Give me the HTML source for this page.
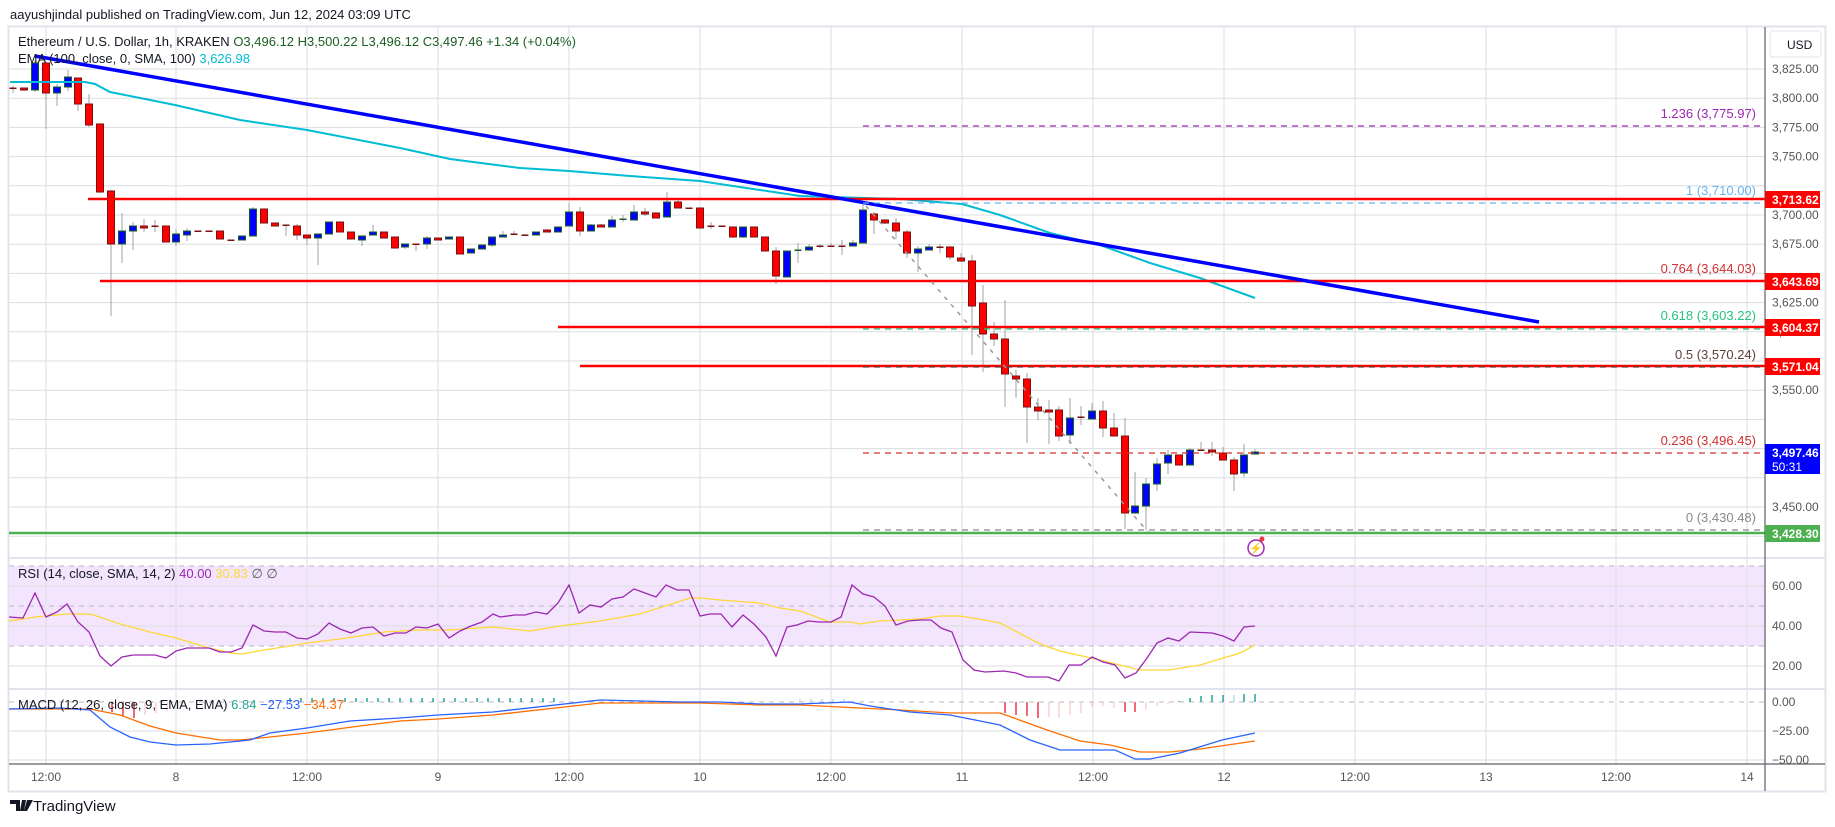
<!DOCTYPE html>
<html><head><meta charset="utf-8">
<style>
html,body{margin:0;padding:0;background:#fff;width:1835px;height:827px;overflow:hidden;font-family:"Liberation Sans",Arial,sans-serif}
svg text{font-family:"Liberation Sans",Arial,sans-serif}
</style></head>
<body>
<svg id="s" width="1835" height="827" xmlns="http://www.w3.org/2000/svg">
<rect x="0" y="0" width="1835" height="827" fill="#fff"/>
<text x="10" y="19" font-size="13" fill="#131722">aayushjindal published on TradingView.com, Jun 12, 2024 03:09 UTC</text>
<rect x="8.5" y="26.5" width="1817" height="765" fill="none" stroke="#e0e3eb" stroke-width="2"/>
<rect x="9" y="566" width="1756" height="80" fill="#f3e5fd"/>
<g id="grid" stroke="#dcdde0" stroke-width="1"></g>
<g stroke="#b7b7c0" stroke-dasharray="5,5" stroke-width="1">
<line x1="9" y1="566" x2="1765" y2="566"/><line x1="9" y1="606" x2="1765" y2="606"/><line x1="9" y1="646" x2="1765" y2="646"/>
<line x1="9" y1="702" x2="1765" y2="702"/>
</g>
<line x1="9" y1="558" x2="1825" y2="558" stroke="#e0e3eb" stroke-width="2"/>
<line x1="9" y1="689" x2="1825" y2="689" stroke="#e0e3eb" stroke-width="2"/>
<g id="cand"></g>
<!-- horizontal lines -->
<g stroke-width="2" fill="none">
<polyline stroke="#00bcd4" stroke-width="2" points="10,82 85,82 95,84 110,92 175,105 240,120 307,130 400,148 450,159 520,168 569,171 630,176 700,181 800,196 900,199 962,204 1000,215 1050,233 1100,245 1150,263 1200,278 1255,298"/>
<line x1="88" y1="199" x2="1765" y2="199" stroke="#ff0000" stroke-width="2.5"/>
<line x1="100" y1="281" x2="1765" y2="281" stroke="#ff0000" stroke-width="2.5"/>
<line x1="558" y1="327" x2="1765" y2="327" stroke="#ff0000" stroke-width="2.5"/>
<line x1="580" y1="366" x2="1765" y2="366" stroke="#ff0000" stroke-width="2.5"/>
<line x1="9" y1="533" x2="1765" y2="533" stroke="#4caf50" stroke-width="2.5"/>
<line x1="35" y1="56" x2="1539" y2="322" stroke="#0000ff" stroke-width="3.5"/>
</g>
<g stroke-width="1.2" stroke-dasharray="6,5" fill="none">
<line x1="863" y1="126" x2="1765" y2="126" stroke="#9c27b0"/>
<line x1="863" y1="203" x2="1765" y2="203" stroke="#64b5f6"/>
<line x1="863" y1="329" x2="1765" y2="329" stroke="#26c281"/>
<line x1="863" y1="367" x2="1765" y2="367" stroke="#5d4037"/>
<line x1="863" y1="453" x2="1765" y2="453" stroke="#d32f2f"/>
<line x1="863" y1="530" x2="1765" y2="530" stroke="#888"/>
<line x1="866" y1="206" x2="1148" y2="532" stroke="#999" stroke-dasharray="4,6" stroke-width="1.5"/>
</g>
<g font-size="13" text-anchor="end">
<text x="1756" y="118" fill="#9c27b0">1.236 (3,775.97)</text>
<text x="1756" y="195" fill="#64b5f6">1 (3,710.00)</text>
<text x="1756" y="273" fill="#d32f2f">0.764 (3,644.03)</text>
<text x="1756" y="320" fill="#26c281">0.618 (3,603.22)</text>
<text x="1756" y="359" fill="#5d4037">0.5 (3,570.24)</text>
<text x="1756" y="445" fill="#d32f2f">0.236 (3,496.45)</text>
<text x="1756" y="522" fill="#888">0 (3,430.48)</text>
</g>
<circle cx="1256" cy="548" r="8" fill="none" stroke="#9c27b0" stroke-width="1.5"/>
<text x="1256" y="552" font-size="11" text-anchor="middle" fill="#9c27b0">⚡</text>
<circle cx="1262" cy="539" r="2.5" fill="#f23645"/>
<!-- RSI -->
<polyline fill="none" stroke="#fdd835" stroke-width="1.3" points="9,621 23,619 35,617 46,616 67,614 89,614 100,617 120,624 150,632 176,638 209,648 231,653 242,654 264,650 290,646 307,643 340,639 384,632 416,630 449,630 493,627 530,631 560,626 600,621 640,614 690,598 700,598 720,600 760,603 780,608 800,611 830,622 851,622 860,624 880,621 920,619 940,616 960,616 985,620 1000,623 1040,644 1060,651 1100,660 1140,670 1169,670 1200,665 1240,653 1255,645"/>
<polyline fill="none" stroke="#9c27b0" stroke-width="1.3" points="9,617 23,618 35,593 46,617 57,612 67,604 78,622 89,632 100,656 111,666 122,657 133,655 155,655 166,658 176,651 187,648 209,648 220,652 231,652 242,648 253,625 264,631 275,632 286,632 297,638 307,639 318,634 329,623 340,629 351,633 362,628 373,627 384,636 395,633 406,633 416,627 427,628 438,624 449,638 460,631 471,626 482,622 493,614 500,617 515,615 525,615 536,612 547,614 558,603 569,585 579,613 590,605 601,607 612,599 623,597 634,589 645,593 656,597 666,585 677,590 689,590 700,616 710,614 721,614 732,627 743,615 754,624 766,637 776,656 787,627 797,625 808,621 819,622 831,622 841,617 852,585 863,594 874,597 885,606 896,625 908,621 920,620 931,620 941,628 952,632 963,660 974,670 985,672 1004,671 1016,673 1027,677 1048,677 1059,681 1069,665 1081,665 1092,657 1103,662 1115,665 1125,678 1136,673 1147,658 1157,643 1168,638 1179,641 1190,632 1212,633 1223,636 1234,641 1244,627 1255,626"/>
<text x="18" y="578" font-size="13" fill="#131722">RSI (14, close, SMA, 14, 2) <tspan fill="#9c27b0">40.00</tspan> <tspan fill="#fdd835">30.83</tspan> <tspan fill="#555">∅ ∅</tspan></text>
<!-- MACD -->
<g id="hist"></g>
<polyline fill="none" stroke="#ff6d00" stroke-width="1.3" points="9,709 90,709 120,715 150,726 176,733 220,740 240,740 270,737 307,733 360,726 400,721 438,719 493,715 600,703 700,703 760,705 800,705 900,710 950,713 1000,713 1050,731 1080,741 1110,745 1140,752 1170,752 1200,749 1255,741"/>
<polyline fill="none" stroke="#2962ff" stroke-width="1.3" points="9,709 60,708 90,710 110,727 130,737 150,742 176,745 210,744 250,740 270,733 307,728 350,721 400,718 438,715 493,712 600,700 680,702 720,702 760,704 800,704 850,702 870,706 910,712 950,715 1000,725 1030,740 1060,750 1100,750 1115,750 1135,759 1150,759 1180,753 1222,740 1255,733"/>
<text x="18" y="709" font-size="13" fill="#131722">MACD (12, 26, close, 9, EMA, EMA) <tspan fill="#26a69a">6.84</tspan> <tspan fill="#2962ff">−27.53</tspan> <tspan fill="#ff6d00">−34.37</tspan></text>
<!-- legend -->
<text x="18" y="46" font-size="13" fill="#131722">Ethereum / U.S. Dollar, 1h, KRAKEN <tspan fill="#1b5e20">O3,496.12 H3,500.22 L3,496.12 C3,497.46 +1.34 (+0.04%)</tspan></text>
<text x="18" y="63" font-size="13" fill="#131722">EMA (100, close, 0, SMA, 100) <tspan fill="#00bcd4">3,626.98</tspan></text>
<!-- axes -->
<line x1="1765" y1="27" x2="1765" y2="791" stroke="#5d606b" stroke-width="1.2"/>
<line x1="9" y1="764" x2="1825" y2="764" stroke="#5d606b" stroke-width="1.2"/>
<rect x="1770" y="31" width="51" height="26" rx="3" fill="#fff" stroke="#e0e3eb"/>
<text x="1787" y="49" font-size="12" fill="#131722">USD</text>
<g id="ax" font-size="12" fill="#555"></g>
<g id="tx" font-size="12" fill="#555" text-anchor="middle"></g>
<g font-size="12" font-weight="bold" fill="#fff">
<rect x="1765" y="191" width="55" height="17" fill="#ff0000"/><text x="1772" y="204">3,713.62</text>
<rect x="1765" y="273" width="55" height="17" fill="#ff0000"/><text x="1772" y="286">3,643.69</text>
<rect x="1765" y="319" width="55" height="17" fill="#ff0000"/><text x="1772" y="332">3,604.37</text>
<rect x="1765" y="358" width="55" height="17" fill="#ff0000"/><text x="1772" y="371">3,571.04</text>
<rect x="1765" y="444" width="55" height="30" fill="#0000ff"/><text x="1772" y="457">3,497.46</text><text x="1772" y="471" font-weight="normal">50:31</text>
<rect x="1765" y="525" width="55" height="17" fill="#4caf50"/><text x="1772" y="538">3,428.30</text>
</g>
<g transform="translate(10,800)">
<path d="M0 0h10v11h-4v-7h-6z M12 0h4l-2 11h-4z M17 0h6l-6 11h-3z" fill="#131722"/>
</g>
<text x="33" y="811" font-size="15" fill="#131722">TradingView</text>
</svg>
<script>
var NS="http://www.w3.org/2000/svg";
function el(p,t,a){var e=document.createElementNS(NS,t);for(var k in a)e.setAttribute(k,a[k]);p.appendChild(e);return e;}
var g=document.getElementById('grid');
var vx=[46,176,307,438,569,700,831,962,1093,1224,1355,1486,1616,1747];
vx.forEach(function(x){el(g,'line',{x1:x,y1:27,x2:x,y2:764});});
var ax=document.getElementById('ax');
for(var p=3825;p>=3425;p-=25){var y=69+(3825-p)*1.168;el(g,'line',{x1:9,y1:y,x2:1765,y2:y});
 var hide=[3725,3650,3575,3525,3475,3425].indexOf(p)>=0;
 if(!hide){var t=el(ax,'text',{x:1772,y:y+4});t.textContent=(p+'').replace(/(\d)(\d{3})/,'$1,$2')+'.00';}}
[586,626,666,731,760].forEach(function(y){el(g,'line',{x1:9,y1:y,x2:1765,y2:y});});
[[586,'60.00'],[626,'40.00'],[666,'20.00'],[702,'0.00'],[731,'−25.00'],[760,'−50.00']].forEach(function(a){var t=el(ax,'text',{x:1772,y:a[0]+4});t.textContent=a[1];});
var tx=document.getElementById('tx');var lb=['12:00','8','12:00','9','12:00','10','12:00','11','12:00','12','12:00','13','12:00','14'];
vx.forEach(function(x,i){var t=el(tx,'text',{x:x,y:781});t.textContent=lb[i];});
var C=[[13,88,88,86,93],[24,88,90,88,91],[35,90,63,60,92],[46,63,93,63,129],[57,93,87,84,106],[68,87,77,70,91],[78,78,104,78,111],[89,104,125,94,127],[100,124,192,123,193],[111,191,244,190,316],[122,244,231,213,263],[133,231,226,222,250],[144,226,228,219,232],[155,226,226,220,232],[166,226,242,226,242],[176,242,234,229,246],[187,235,231,228,241],[198,231,231,231,231],[209,231,231,231,231],[220,231,239,231,239],[231,240,240,240,241],[242,240,236,236,240],[253,236,209,207,236],[264,209,223,209,223],[275,223,226,223,226],[286,225,226,225,236],[297,226,235,224,240],[307,235,238,235,245],[318,238,234,234,265],[329,234,222,222,234],[340,222,232,222,232],[351,232,239,232,239],[362,240,236,236,246],[373,235,232,225,235],[384,232,238,232,238],[395,237,248,237,249],[405,247,244,244,249],[416,244,244,244,251],[427,244,238,236,249],[438,238,240,238,240],[449,239,237,237,239],[460,237,254,237,254],[471,253,249,249,253],[482,249,245,245,249],[492,245,237,237,247],[503,237,235,231,237],[514,234,234,231,235],[525,235,235,234,235],[536,235,232,232,235],[547,230,232,229,232],[558,232,227,227,232],[569,226,212,203,226],[580,212,231,207,236],[591,231,225,224,231],[601,225,227,224,227],[612,227,220,216,227],[623,220,219,215,222],[634,220,212,205,220],[645,212,214,208,216],[656,213,218,212,218],[667,217,202,192,217],[678,202,208,199,208],[689,208,208,208,208],[700,208,228,208,228],[711,226,226,222,229],[722,226,226,226,226],[733,227,237,227,238],[743,237,227,227,238],[754,227,237,227,237],[765,237,251,237,251],[776,251,276,247,284],[787,277,251,251,277],[798,251,250,243,263],[809,250,247,244,251],[820,246,246,244,248],[831,246,246,243,247],[842,246,246,240,255],[853,246,243,240,246],[863,243,210,204,243],[874,214,220,212,234],[885,220,223,219,224],[896,223,231,218,239],[907,232,253,230,258],[918,253,249,246,272],[929,250,247,244,250],[940,247,247,244,253],[950,247,257,246,260],[961,258,261,253,262],[972,261,306,255,355],[983,303,334,285,372],[994,334,339,322,346],[1005,339,374,300,407],[1016,376,379,370,398],[1027,379,407,373,443],[1038,407,411,398,420],[1049,410,412,400,444],[1059,410,436,406,441],[1070,435,418,398,444],[1081,417,418,406,425],[1092,419,411,403,419],[1103,411,428,401,437],[1114,428,436,413,436],[1125,436,513,418,529],[1135,513,506,472,514],[1146,506,484,478,530],[1157,484,464,458,491],[1168,463,455,450,474],[1179,455,465,455,465],[1190,465,450,448,465],[1201,450,450,442,451],[1212,450,452,442,456],[1223,453,460,447,460],[1234,460,474,457,491],[1244,473,455,444,477],[1255,454,452,449,454]];
var cg=document.getElementById('cand');
C.forEach(function(c){var x=c[0],o=c[1],cl=c[2],h=c[3],l=c[4];
 el(cg,'line',{x1:x,y1:h,x2:x,y2:l,stroke:'#a0a0a0','stroke-width':1});
 var top=Math.min(o,cl),hh=Math.abs(o-cl);
 if(hh<1.5){el(cg,'rect',{x:x-3.5,y:top-0.5,width:7,height:1.5,fill:cl<o?'#1b5e20':'#7a1010'});}
 else{var up=cl<o;el(cg,'rect',{x:x-3.5,y:top,width:7,height:hh,fill:up?'#0000ff':'#ff0000',stroke:up?'#1b5e20':'#7a1010','stroke-width':1});}
});
var hg=document.getElementById('hist');
var H=[[112,712,'#f23645'],[123,716,'#f23645'],[134,718,'#f23645'],[145,715,'#ffcdd2'],[156,713,'#ffcdd2'],[167,711,'#ffcdd2'],[178,709,'#ffcdd2'],[1005,713,'#f23645'],[1016,715,'#f23645'],[1027,716,'#f23645'],[1038,718,'#f23645'],[1049,717,'#ffcdd2'],[1059,718,'#ffcdd2'],[1070,715,'#ffcdd2'],[1081,713,'#ffcdd2'],[1092,707,'#ffcdd2'],[1103,706,'#ffcdd2'],[1114,708,'#ffcdd2'],[1125,712,'#f23645'],[1135,712,'#f23645'],[1146,710,'#ffcdd2'],[1157,706,'#ffcdd2'],[1168,704,'#ffcdd2'],[1179,701,'#26a69a'],[1190,698,'#26a69a'],[1201,696,'#26a69a'],[1212,695,'#26a69a'],[1223,695,'#26a69a'],[1234,695,'#b2dfdb'],[1244,694,'#26a69a'],[1255,694,'#26a69a']];
for(var x=290;x<=560;x+=11)H.push([x,698,'#26a69a']);
for(var x=800;x<=850;x+=11)H.push([x,699,'#b2dfdb']);
H.forEach(function(h){el(hg,'line',{x1:h[0],y1:702,x2:h[0],y2:h[1],stroke:h[2],'stroke-width':1.5});});
</script>
</body></html>
